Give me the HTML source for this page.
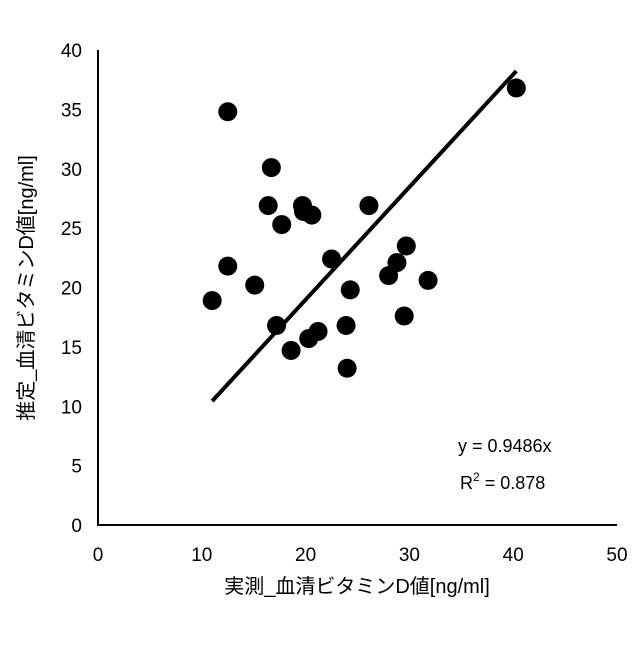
<!DOCTYPE html>
<html><head><meta charset="utf-8"><style>
body{margin:0;background:#fff}
svg text{font-family:"Liberation Sans","Noto Sans CJK JP",sans-serif;fill:#000}
</style></head><body>
<svg width="640" height="640" id="c">
<rect width="640" height="640" fill="#fff"/>
<g id="g"></g>
</svg>
<script>
const xs=[11,12.5,12.5,15.1,16.7,16.4,17.7,17.2,18.6,19.7,19.8,20.6,20.3,21.2,22.5,23.9,24.3,24,26.1,28,28.8,29.7,29.5,31.8,40.3];
const ys=[18.9,34.8,21.8,20.2,30.1,26.9,25.3,16.8,14.7,26.9,26.4,26.1,15.7,16.3,22.4,16.8,19.8,13.2,26.9,21,22.1,23.5,17.6,20.6,36.8];
const xTicks=[0,10,20,30,40,50];
const yTicks=[0,5,10,15,20,25,30,35,40];
const slope=0.9486;
const trendRange=[11,40.3];
const X=v=>98+v*10.38, Y=v=>525-v*11.875;
const NS='http://www.w3.org/2000/svg', g=document.getElementById('g');
function mk(t,a,txt){const e=document.createElementNS(NS,t);for(const k in a)e.setAttribute(k,a[k]);if(txt!=null)e.textContent=txt;g.appendChild(e);return e;}
let e;
e=mk('line',{x1:98,y1:50,x2:98,y2:526,stroke:'#000','stroke-width':2});


e=mk('line',{x1:97,y1:525,x2:617,y2:525,stroke:'#000','stroke-width':2});


xTicks.forEach(t=>{e=mk('text',{x:X(t),y:561,'font-size':19,'text-anchor':'middle'},t);

});
yTicks.forEach(t=>{e=mk('text',{x:82,y:Y(t)+7,'font-size':19,'text-anchor':'end'},t);

});
xs.forEach((x,i)=>{e=mk('circle',{cx:X(x),cy:Y(ys[i]),r:9.5,fill:'#000'});

});
e=mk('line',{x1:X(trendRange[0]),y1:Y(trendRange[0]*slope),x2:X(trendRange[1]),y2:Y(trendRange[1]*slope),stroke:'#000','stroke-width':4});


e=mk('text',{x:458,y:452,'font-size':18},'y = 0.9486x');


e=mk('text',{x:460,y:489,'font-size':18});
e.innerHTML='R<tspan dy="-8" font-size="12">2</tspan><tspan dy="8"> = 0.878</tspan>';


e=mk('text',{x:357,y:593,'font-size':20,'text-anchor':'middle'},'実測_血清ビタミンD値[ng/ml]');


e=mk('text',{x:0,y:0,'font-size':20,'text-anchor':'middle',transform:'translate(33,288) rotate(-90)'},'推定_血清ビタミンD値[ng/ml]');


</script>
</body></html>
